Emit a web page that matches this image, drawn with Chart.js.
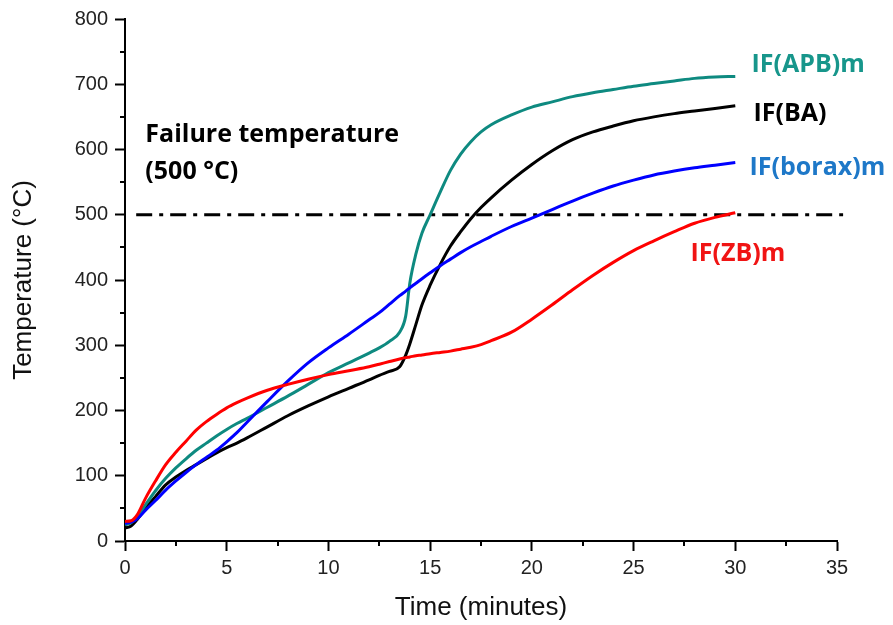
<!DOCTYPE html>
<html><head><meta charset="utf-8">
<script src="https://cdn.jsdelivr.net/npm/chart.js@4.4.0/dist/chart.umd.min.js"></script>
<style>html,body{margin:0;padding:0;background:#fff;}canvas{display:block;}</style>
</head><body>
<canvas id="c" width="893" height="625"></canvas>
<script>
// ---- data ----
const timeMin   = [0,0.3,0.6,1,1.5,2,2.5,3,3.5,4,4.5,5,5.5,6,7,8,9,10,11,12,12.5,13,13.5,13.8,14,14.3,14.6,15,15.5,16,16.5,17,17.5,18,19,20,21,22,23,24,25,26,27,28,29,30];
const tempAPB   = [25,28,37,55,77,96,112,126,139,150,161,171,180,188,205,222,240,258,273,288,296,306,320,345,395,440,472,500,535,568,593,612,627,638,653,665,673,681,687,692,697,701,705,709,711,712];
const tempBA    = [20,23,33,50,68,86,98,108,117,126,135,143,150,158,175,192,207,221,234,247,254,260,267,285,302,332,362,392,424,452,474,494,511,526,553,577,598,615,627,636,644,650,655,659,663,667];
const tempBorax = [27,29,34,47,62,78,92,105,117,128,139,152,166,182,214,245,273,296,317,339,350,363,376,383,388,395,402,411,422,432,442,451,459,467,482,495,508,521,533,544,553,561,567,572,576,580];
const tempZB    = [30,31,40,65,92,117,136,153,170,183,194,204,212,219,231,240,248,255,261,267,271,275,279,281,282,284,285,287,289,291,294,297,301,307,320,340,362,385,407,427,445,460,474,487,496,503];
const failureTemp = 500;
const failureSpan = [0.55, 35.3];
const seriesNames = ['IF(ZB)m','IF(borax)m','IF(APB)m','IF(BA)'];
const xTickValues = [0,5,10,15,20,25,30,35];
const yTickValues = [0,100,200,300,400,500,600,700,800];
const xMinorValues = [2.5,7.5,12.5,17.5,22.5,27.5,32.5];
const yMinorValues = [50,150,250,350,450,550,650,750];

// ---- styling ----
const lineColors  = ['#ff0000','#0000ff','#0e8a80','#000000'];
const labelColors = ['#f01414','#1e78c8','#17968b','#000000'];
const seriesData  = [tempZB, tempBorax, tempAPB, tempBA];
const labelAnchors = [  // data-space anchors for the text labels
  {t:27.8, T:440},   // IF(ZB)m
  {t:30.7, T:572},   // IF(borax)m
  {t:30.8, T:730},   // IF(APB)m
  {t:30.9, T:655}    // IF(BA)
];
const noteLines = ['Failure temperature','(500 \u00B0C)'];
const noteAnchors = [{t:1.0, T:622},{t:1.0, T:565}];

const datasets = seriesData.map((arr,i)=>({
  label: seriesNames[i],
  data: timeMin.map((t,k)=>({x:t,y:arr[k]})),
  borderColor: lineColors[i],
  borderWidth: 3,
  pointRadius: 0,
  fill: false,
  cubicInterpolationMode: 'monotone'
}));
datasets.push({
  label: 'Failure temperature',
  data: failureSpan.map(t=>({x:t,y:failureTemp})),
  borderColor: '#000',
  borderWidth: 3,
  borderDash: [16,7,4,7],
  pointRadius: 0,
  fill: false,
  clip: false
});

const textPlugin = {
  id: 'texts',
  afterDatasetsDraw(chart){
    const ctx = chart.ctx, xs = chart.scales.x, ys = chart.scales.y;
    ctx.save();
    // minor ticks
    ctx.strokeStyle = '#000'; ctx.lineWidth = 2;
    const ca = chart.chartArea;
    xMinorValues.forEach(v=>{
      const px = Math.round(xs.getPixelForValue(v));
      ctx.beginPath(); ctx.moveTo(px, ca.bottom); ctx.lineTo(px, ca.bottom+5); ctx.stroke();
    });
    yMinorValues.forEach(v=>{
      const py = Math.round(ys.getPixelForValue(v));
      ctx.beginPath(); ctx.moveTo(ca.left, py); ctx.lineTo(ca.left-5, py); ctx.stroke();
    });
    // labels
    ctx.font = 'bold 25px "Open Sans"';
    ctx.textAlign = 'left'; ctx.textBaseline = 'middle';
    seriesNames.forEach((n,i)=>{
      ctx.fillStyle = labelColors[i];
      ctx.fillText(n, xs.getPixelForValue(labelAnchors[i].t), ys.getPixelForValue(labelAnchors[i].T));
    });
    ctx.fillStyle = '#000';
    noteLines.forEach((s,i)=>{
      ctx.fillText(s, xs.getPixelForValue(noteAnchors[i].t), ys.getPixelForValue(noteAnchors[i].T));
    });
    ctx.restore();
  }
};

const tickFont = {family:'"Liberation Sans", Arial, sans-serif', size:20};
const titleFont = {family:'"Liberation Sans", Arial, sans-serif', size:26};

new Chart(document.getElementById('c'), {
  type: 'line',
  data: { datasets },
  options: {
    responsive: false,
    animation: false,
    layout: { padding: {top:16, right:56, left:0, bottom:0} },
    plugins: { legend:{display:false}, tooltip:{enabled:false} },
    scales: {
      x: {
        type: 'linear', min: 0, max: 35,
        afterFit: s => { s.height = 84; },
        afterBuildTicks: s => { s.ticks = xTickValues.map(v=>({value:v})); },
        grid: { drawOnChartArea:false, tickLength:10, tickColor:'#000', tickWidth:2 },
        border: { color:'#000', width:2 },
        ticks: { font:tickFont, color:'#222', padding:5, maxRotation:0, autoSkip:false },
        title: { display:true, text:'Time (minutes)', font:titleFont, color:'#111', padding:{top:0,bottom:2} }
      },
      y: {
        min: 0, max: 800,
        afterFit: s => { s.width = 125; },
        afterBuildTicks: s => { s.ticks = yTickValues.map(v=>({value:v})); },
        grid: { drawOnChartArea:false, tickLength:10, tickColor:'#000', tickWidth:2 },
        border: { color:'#000', width:2 },
        ticks: { font:tickFont, color:'#222', padding:7, autoSkip:false },
        title: { display:true, text:'Temperature (\u00B0C)', font:titleFont, color:'#111', padding:{top:8,bottom:0} }
      }
    }
  },
  plugins: [textPlugin]
});
</script>
</body></html>
